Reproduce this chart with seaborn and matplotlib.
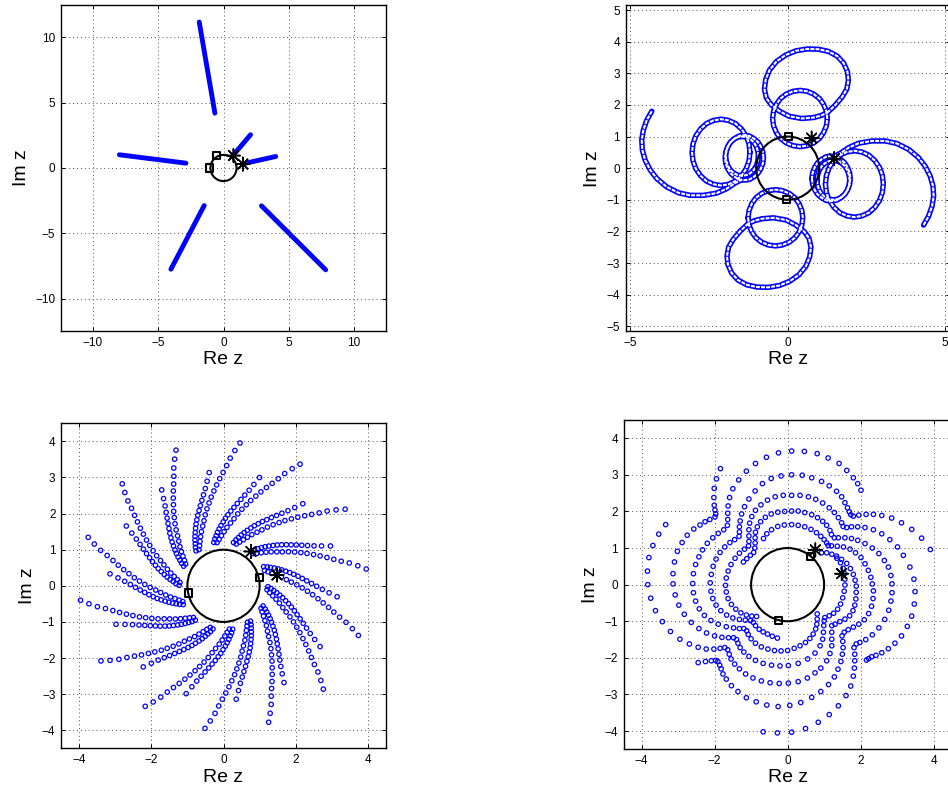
import numpy as np
import pandas as pd
import matplotlib
matplotlib.use("Agg")
import matplotlib.pyplot as plt
from matplotlib.patches import Circle
import seaborn as sns

sns.set_style("white", rc={"axes.edgecolor": "black", "text.color": "black",
                           "axes.labelcolor": "black", "xtick.color": "black",
                           "ytick.color": "black"})
plt.rcParams["font.family"] = ["Liberation Sans", "DejaVu Sans"]

BLUE = "#0000ff"

# ---------------- fixed reference points (same in every panel) ----------------
star_x = [0.76, 1.48]
star_y = [0.95, 0.30]

square_tl = ([-0.54, -1.05], [0.93, 0.00])
square_tr = ([0.02, -0.03], [1.01, -0.99])
square_bl = ([-0.97, 0.99], [-0.20, 0.23])
square_br = ([0.63, -0.26], [0.78, -0.98])

# ---------------- panel (a): straight streaks ----------------
streak_x0 = [-1.86, -7.98, -1.48, 2.91, 0.85, 1.71]
streak_y0 = [11.15, 1.01, -2.87, -2.89, 1.10, 0.37]
streak_x1 = [-0.66, -2.88, -4.03, 7.83, 2.07, 4.00]
streak_y1 = [4.19, 0.37, -7.73, -7.78, 2.54, 0.88]

# ---------------- panel (b): looping paths ----------------
top_small = [(1.26, 1.57), (1.23, 1.80), (1.14, 2.02), (1.01, 2.20), (0.83, 2.34), (0.62, 2.43),
             (0.39, 2.46), (0.17, 2.43), (-0.05, 2.34), (-0.23, 2.20), (-0.36, 2.02), (-0.45, 1.80),
             (-0.48, 1.57), (-0.45, 1.34), (-0.36, 1.12), (-0.23, 0.94), (-0.05, 0.80), (0.17, 0.71),
             (0.39, 0.68), (0.62, 0.71), (0.83, 0.80), (1.01, 0.94), (1.14, 1.12), (1.23, 1.34), (1.26, 1.57)]
top_big = [(1.25, 1.75), (1.50, 1.98), (1.73, 2.25), (1.88, 2.50), (1.93, 2.78), (1.90, 3.05),
           (1.78, 3.32), (1.58, 3.54), (1.30, 3.69), (0.98, 3.76), (0.62, 3.77), (0.26, 3.71),
           (-0.06, 3.58), (-0.36, 3.37), (-0.58, 3.10), (-0.70, 2.80), (-0.74, 2.50), (-0.68, 2.22),
           (-0.52, 2.00), (-0.26, 1.80), (0.05, 1.64), (0.45, 1.57), (0.82, 1.60), (1.05, 1.66), (1.25, 1.75)]
bottom_small = [(-1.26, -1.57), (-1.23, -1.80), (-1.14, -2.02), (-1.01, -2.20), (-0.83, -2.34), (-0.62, -2.43),
                (-0.39, -2.46), (-0.17, -2.43), (0.05, -2.34), (0.23, -2.20), (0.36, -2.02), (0.45, -1.80),
                (0.48, -1.57), (0.45, -1.34), (0.36, -1.12), (0.23, -0.94), (0.05, -0.80), (-0.17, -0.71),
                (-0.39, -0.68), (-0.62, -0.71), (-0.83, -0.80), (-1.01, -0.94), (-1.14, -1.12), (-1.23, -1.34),
                (-1.26, -1.57)]
bottom_big = [(-1.25, -1.75), (-1.50, -1.98), (-1.73, -2.25), (-1.88, -2.50), (-1.93, -2.78), (-1.90, -3.05),
              (-1.78, -3.32), (-1.58, -3.54), (-1.30, -3.69), (-0.98, -3.76), (-0.62, -3.77), (-0.26, -3.71),
              (0.06, -3.58), (0.36, -3.37), (0.58, -3.10), (0.70, -2.80), (0.74, -2.50), (0.68, -2.22),
              (0.52, -2.00), (0.26, -1.80), (-0.05, -1.64), (-0.45, -1.57), (-0.82, -1.60), (-1.05, -1.66),
              (-1.25, -1.75)]
left_tail = [(-4.32, 1.80), (-4.48, 1.52), (-4.59, 1.20), (-4.64, 0.89), (-4.62, 0.57), (-4.53, 0.25),
             (-4.37, -0.06), (-4.16, -0.33), (-3.85, -0.59), (-3.47, -0.78), (-3.10, -0.86), (-2.68, -0.86),
             (-2.26, -0.79), (-1.94, -0.65), (-1.67, -0.47), (-1.45, -0.36)]
left_big = [(-1.20, 0.50), (-1.23, 0.77), (-1.32, 1.02), (-1.47, 1.24), (-1.66, 1.41), (-1.88, 1.51),
            (-2.12, 1.55), (-2.36, 1.51), (-2.58, 1.41), (-2.77, 1.24), (-2.92, 1.02), (-3.01, 0.77),
            (-3.04, 0.50), (-3.01, 0.23), (-2.92, -0.02), (-2.77, -0.24), (-2.58, -0.41), (-2.36, -0.51),
            (-2.12, -0.55), (-1.88, -0.51), (-1.66, -0.41), (-1.47, -0.24), (-1.32, -0.02), (-1.23, 0.23),
            (-1.20, 0.50)]
left_small = [(-0.77, 0.33), (-0.79, 0.51), (-0.86, 0.69), (-0.95, 0.83), (-1.08, 0.94), (-1.22, 1.02),
              (-1.38, 1.04), (-1.54, 1.02), (-1.68, 0.94), (-1.81, 0.83), (-1.90, 0.69), (-1.97, 0.51),
              (-1.99, 0.33), (-1.97, 0.15), (-1.90, -0.03), (-1.81, -0.17), (-1.68, -0.28), (-1.54, -0.36),
              (-1.38, -0.38), (-1.22, -0.36), (-1.08, -0.28), (-0.95, -0.17), (-0.86, -0.03), (-0.79, 0.15),
              (-0.77, 0.33)]
left_small_inner = [(-0.93, 0.38), (-0.95, 0.54), (-1.00, 0.69), (-1.08, 0.82), (-1.19, 0.92), (-1.31, 0.98),
                    (-1.45, 1.00), (-1.59, 0.98), (-1.71, 0.92), (-1.82, 0.82), (-1.90, 0.69), (-1.95, 0.54),
                    (-1.97, 0.38), (-1.95, 0.22), (-1.90, 0.07), (-1.82, -0.06), (-1.71, -0.16), (-1.59, -0.22),
                    (-1.45, -0.24), (-1.31, -0.22), (-1.19, -0.16), (-1.08, -0.06), (-1.00, 0.07), (-0.95, 0.22),
                    (-0.93, 0.38)]
right_tail = [(4.32, -1.80), (4.48, -1.52), (4.59, -1.20), (4.64, -0.89), (4.62, -0.57), (4.53, -0.25),
              (4.37, 0.06), (4.16, 0.33), (3.85, 0.59), (3.47, 0.78), (3.10, 0.86), (2.68, 0.86),
              (2.26, 0.79), (1.94, 0.65), (1.67, 0.47), (1.45, 0.36)]
right_big = [(1.20, -0.50), (1.23, -0.77), (1.32, -1.02), (1.47, -1.24), (1.66, -1.41), (1.88, -1.51),
             (2.12, -1.55), (2.36, -1.51), (2.58, -1.41), (2.77, -1.24), (2.92, -1.02), (3.01, -0.77),
             (3.04, -0.50), (3.01, -0.23), (2.92, 0.02), (2.77, 0.24), (2.58, 0.41), (2.36, 0.51),
             (2.12, 0.55), (1.88, 0.51), (1.66, 0.41), (1.47, 0.24), (1.32, 0.02), (1.23, -0.23),
             (1.20, -0.50)]
right_small = [(0.77, -0.33), (0.79, -0.51), (0.86, -0.69), (0.95, -0.83), (1.08, -0.94), (1.22, -1.02),
               (1.38, -1.04), (1.54, -1.02), (1.68, -0.94), (1.81, -0.83), (1.90, -0.69), (1.97, -0.51),
               (1.99, -0.33), (1.97, -0.15), (1.90, 0.03), (1.81, 0.17), (1.68, 0.28), (1.54, 0.36),
               (1.38, 0.38), (1.22, 0.36), (1.08, 0.28), (0.95, 0.17), (0.86, 0.03), (0.79, -0.15),
               (0.77, -0.33)]
right_small_inner = [(0.93, -0.38), (0.95, -0.54), (1.00, -0.69), (1.08, -0.82), (1.19, -0.92), (1.31, -0.98),
                     (1.45, -1.00), (1.59, -0.98), (1.71, -0.92), (1.82, -0.82), (1.90, -0.69), (1.95, -0.54),
                     (1.97, -0.38), (1.95, -0.22), (1.90, -0.07), (1.82, 0.06), (1.71, 0.16), (1.59, 0.22),
                     (1.45, 0.24), (1.31, 0.22), (1.19, 0.16), (1.08, 0.06), (1.00, -0.07), (0.95, -0.22),
                     (0.93, -0.38)]

# ---------------- panel (c): 14 long and 14 short spiral arms (polar) ----------------
# radius of each point and how far (deg) it lags behind the arm tip
long_r = [1.21, 1.29, 1.39, 1.50, 1.62, 1.75, 1.88, 2.03, 2.18, 2.33, 2.48, 2.64, 2.80, 2.97,
          3.14, 3.33, 3.54, 3.76, 3.98]
long_turn_deg = [40.8, 37.6, 34.5, 31.6, 28.8, 25.8, 23.3, 21.0, 18.7, 16.5, 14.5, 12.4, 10.5, 8.6,
                 6.8, 5.1, 3.6, 1.8, 0.0]
long_tip_deg = [6.7, 32.2, 57.8, 83.4, 109.3, 134.8, 160.3, 185.8, 211.5, 237.0, 262.6, 288.3, 314.0, 339.8]
short_r = [1.23, 1.32, 1.40, 1.49, 1.58, 1.67, 1.77, 1.87, 1.97, 2.08, 2.19, 2.31, 2.44, 2.58, 2.74, 2.93, 3.16]
short_turn_deg = [31.0, 28.9, 26.8, 24.8, 22.8, 20.8, 18.7, 16.8, 14.8, 12.8, 10.8, 8.9, 7.0, 5.2, 3.4, 1.7, 0.0]
short_tip_deg = [20.4, 46.0, 71.6, 97.2, 122.8, 148.4, 174.0, 199.7, 225.3, 250.9, 276.4, 302.0, 327.8, 354.5]

# ---------------- panel (d): stepped spiral strands ----------------
strand_1 = [(-0.85, -0.87), (-0.98, -0.86), (-1.13, -0.83), (-1.28, -0.77), (-1.42, -0.67), (-1.54, -0.54),
            (-1.63, -0.38), (-1.68, -0.20), (-1.70, -0.02), (-1.68, 0.18), (-1.63, 0.37), (-1.55, 0.55),
            (-1.44, 0.72), (-1.32, 0.86), (-1.18, 0.97), (-1.07, 1.06), (-1.06, 1.18), (-1.06, 1.33),
            (-1.06, 1.50), (-1.04, 1.68), (-0.98, 1.86), (-0.88, 2.03), (-0.73, 2.18), (-0.55, 2.31),
            (-0.34, 2.40), (-0.12, 2.44), (0.11, 2.44), (0.34, 2.44), (0.57, 2.40), (0.77, 2.33),
            (0.96, 2.23), (1.14, 2.10), (1.28, 1.97), (1.39, 1.83), (1.48, 1.69), (1.52, 1.59),
            (1.62, 1.56), (1.75, 1.58), (1.92, 1.58), (2.12, 1.56), (2.35, 1.50), (2.58, 1.39),
            (2.80, 1.23), (3.01, 1.03), (3.17, 0.80), (3.35, 0.48), (3.46, 0.15), (3.49, -0.19),
            (3.47, -0.53), (3.40, -0.86), (3.28, -1.14), (3.12, -1.40), (2.94, -1.60), (2.76, -1.75),
            (2.58, -1.86), (2.42, -1.93), (2.30, -1.97), (2.22, -2.02), (2.16, -2.06)]
strand_2 = [(-0.28, -1.46), (-0.42, -1.41), (-0.55, -1.35), (-0.67, -1.29), (-0.78, -1.22), (-0.88, -1.12),
            (-0.94, -1.03), (-1.02, -0.98), (-1.16, -0.97), (-1.32, -0.95), (-1.50, -0.91), (-1.67, -0.83),
            (-1.83, -0.71), (-1.96, -0.56), (-2.05, -0.38), (-2.10, -0.18), (-2.12, 0.05), (-2.09, 0.28),
            (-2.04, 0.50), (-1.96, 0.70), (-1.85, 0.88), (-1.72, 1.03), (-1.58, 1.15), (-1.45, 1.23),
            (-1.33, 1.32), (-1.32, 1.44), (-1.32, 1.58), (-1.30, 1.74), (-1.26, 1.93), (-1.18, 2.13),
            (-1.06, 2.34), (-0.89, 2.56), (-0.69, 2.76), (-0.45, 2.90), (-0.18, 2.97), (0.11, 3.00),
            (0.40, 2.99), (0.66, 2.92), (0.93, 2.82), (1.14, 2.70), (1.34, 2.55), (1.48, 2.40),
            (1.57, 2.24), (1.64, 2.10), (1.69, 1.99), (1.73, 1.91), (1.80, 1.87), (1.95, 1.90),
            (2.15, 1.92), (2.35, 1.92), (2.58, 1.89), (2.85, 1.82), (3.12, 1.69), (3.40, 1.51),
            (3.67, 1.27), (3.91, 0.96)]
strand_3 = [(0.81, -0.80), (0.81, -0.94), (0.80, -1.08), (0.77, -1.21), (0.70, -1.35), (0.61, -1.47),
            (0.49, -1.58), (0.34, -1.67), (0.18, -1.74), (0.00, -1.80), (-0.18, -1.81), (-0.36, -1.80),
            (-0.54, -1.76), (-0.72, -1.70), (-0.88, -1.60), (-1.00, -1.48), (-1.08, -1.36), (-1.12, -1.26),
            (-1.20, -1.20), (-1.32, -1.20), (-1.48, -1.18), (-1.68, -1.15), (-1.90, -1.08), (-2.10, -0.98),
            (-2.28, -0.84), (-2.42, -0.66), (-2.52, -0.45), (-2.58, -0.22), (-2.60, 0.03), (-2.58, 0.30),
            (-2.52, 0.55), (-2.43, 0.76), (-2.33, 0.95), (-2.20, 1.13), (-2.05, 1.28), (-1.90, 1.40),
            (-1.75, 1.50), (-1.65, 1.62), (-1.64, 1.78), (-1.64, 1.95), (-1.63, 2.15), (-1.59, 2.38),
            (-1.50, 2.62), (-1.34, 2.86), (-1.13, 3.10), (-0.88, 3.31), (-0.58, 3.48), (-0.25, 3.60),
            (0.11, 3.65), (0.46, 3.64), (0.81, 3.58), (1.11, 3.46), (1.41, 3.31), (1.62, 3.12),
            (1.80, 2.92), (1.92, 2.76), (2.01, 2.58)]
strand_4 = [(1.35, 0.72), (1.45, 0.60), (1.52, 0.45), (1.56, 0.30), (1.57, 0.15), (1.57, -0.01),
            (1.55, -0.18), (1.51, -0.36), (1.45, -0.53), (1.37, -0.67), (1.26, -0.78), (1.14, -0.85),
            (1.02, -0.90), (1.00, -0.99), (0.99, -1.12), (0.98, -1.30), (0.96, -1.49), (0.89, -1.67),
            (0.75, -1.87), (0.55, -2.03), (0.29, -2.15), (0.02, -2.21), (-0.21, -2.22), (-0.44, -2.20),
            (-0.67, -2.15), (-0.88, -2.07), (-1.06, -1.96), (-1.20, -1.84), (-1.30, -1.72), (-1.36, -1.60),
            (-1.40, -1.50), (-1.48, -1.45), (-1.62, -1.45), (-1.80, -1.44), (-2.00, -1.40), (-2.22, -1.32),
            (-2.43, -1.20), (-2.64, -1.03), (-2.83, -0.81), (-2.98, -0.56), (-3.08, -0.28), (-3.14, 0.02),
            (-3.14, 0.30), (-3.10, 0.62), (-3.02, 0.91), (-2.89, 1.15), (-2.75, 1.35), (-2.57, 1.52),
            (-2.40, 1.63), (-2.26, 1.72), (-2.13, 1.78), (-1.99, 1.85), (-1.97, 1.93), (-1.99, 2.04),
            (-2.01, 2.17), (-2.02, 2.38), (-2.01, 2.63), (-1.95, 2.89), (-1.84, 3.17)]
strand_5 = [(0.93, 0.87), (1.07, 0.87), (1.21, 0.83), (1.34, 0.78), (1.48, 0.69), (1.62, 0.58),
            (1.72, 0.44), (1.80, 0.28), (1.85, 0.12), (1.88, -0.04), (1.88, -0.21), (1.87, -0.39),
            (1.84, -0.56), (1.79, -0.71), (1.70, -0.85), (1.57, -0.94), (1.43, -1.01), (1.30, -1.08),
            (1.21, -1.12), (1.21, -1.30), (1.21, -1.49), (1.21, -1.67), (1.16, -1.88), (1.07, -2.08),
            (0.91, -2.28), (0.75, -2.41), (0.54, -2.55), (0.29, -2.65), (0.02, -2.69), (-0.23, -2.70),
            (-0.48, -2.68), (-0.72, -2.63), (-0.95, -2.55), (-1.15, -2.44), (-1.32, -2.30), (-1.45, -2.17),
            (-1.55, -2.03), (-1.60, -1.90), (-1.64, -1.78), (-1.72, -1.72), (-1.85, -1.74), (-2.02, -1.76),
            (-2.23, -1.76), (-2.45, -1.71), (-2.69, -1.62), (-2.95, -1.49), (-3.21, -1.28), (-3.43, -1.01),
            (-3.62, -0.71), (-3.75, -0.37), (-3.83, 0.00), (-3.84, 0.37), (-3.80, 0.74), (-3.69, 1.07),
            (-3.53, 1.38), (-3.34, 1.64)]
strand_6 = [(-0.66, 1.26), (-0.57, 1.39), (-0.44, 1.50), (-0.27, 1.59), (-0.09, 1.63), (0.11, 1.64),
            (0.29, 1.62), (0.47, 1.58), (0.64, 1.51), (0.79, 1.42), (0.91, 1.32), (1.00, 1.23),
            (1.07, 1.14), (1.11, 1.07), (1.20, 1.06), (1.36, 1.05), (1.53, 1.03), (1.71, 0.97),
            (1.86, 0.87), (2.01, 0.74), (2.12, 0.57), (2.21, 0.39), (2.28, 0.20), (2.32, 0.02),
            (2.35, -0.17), (2.34, -0.38), (2.30, -0.59), (2.22, -0.79), (2.10, -0.96), (1.95, -1.08),
            (1.80, -1.16), (1.66, -1.23), (1.55, -1.30), (1.49, -1.40), (1.51, -1.55), (1.52, -1.72),
            (1.50, -1.90), (1.46, -2.10), (1.38, -2.31), (1.28, -2.52), (1.12, -2.73), (0.91, -2.92),
            (0.66, -3.08), (0.36, -3.22), (0.06, -3.30), (-0.26, -3.33), (-0.57, -3.29), (-0.86, -3.20),
            (-1.13, -3.09), (-1.36, -2.92), (-1.54, -2.76), (-1.68, -2.58), (-1.77, -2.44), (-1.82, -2.30),
            (-1.86, -2.20), (-1.91, -2.10), (-1.97, -2.07), (-2.09, -2.08), (-2.25, -2.10), (-2.45, -2.13)]
strand_7 = [(-1.21, 0.62), (-1.12, 0.71), (-1.02, 0.80), (-0.93, 0.88), (-0.90, 1.00), (-0.89, 1.14),
            (-0.89, 1.28), (-0.88, 1.43), (-0.83, 1.58), (-0.74, 1.72), (-0.61, 1.84), (-0.45, 1.93),
            (-0.27, 1.98), (-0.08, 2.00), (0.11, 2.01), (0.29, 2.01), (0.47, 1.97), (0.66, 1.91),
            (0.82, 1.83), (0.96, 1.73), (1.07, 1.62), (1.16, 1.48), (1.20, 1.37), (1.28, 1.28),
            (1.39, 1.28), (1.57, 1.28), (1.75, 1.26), (1.92, 1.21), (2.12, 1.12), (2.32, 1.00),
            (2.50, 0.85), (2.65, 0.66), (2.76, 0.48), (2.83, 0.25), (2.86, 0.02), (2.86, -0.22),
            (2.83, -0.45), (2.77, -0.70), (2.66, -0.95), (2.50, -1.18), (2.32, -1.37), (2.14, -1.50),
            (1.98, -1.58), (1.88, -1.62), (1.82, -1.72), (1.84, -1.90), (1.84, -2.08), (1.83, -2.28),
            (1.80, -2.50), (1.73, -2.77), (1.60, -3.03), (1.39, -3.31), (1.14, -3.55), (0.84, -3.76),
            (0.49, -3.93), (0.11, -4.03), (-0.28, -4.05), (-0.67, -4.02)]


# ---------------- helpers ----------------
def frame(ax, lim, xticks, yticks):
    ax.set_xlim(-lim, lim)
    ax.set_ylim(-lim, lim)
    ax.set_xticks(xticks)
    ax.set_yticks(yticks)
    ax.grid(True, linestyle=(0, (1, 3)), color="#555555", linewidth=0.7)
    ax.set_axisbelow(True)
    ax.tick_params(direction="in", bottom=True, left=True, top=True, right=True,
                   length=3, width=0.7, labelsize=8.5, pad=4)
    for s in ax.spines.values():
        s.set_linewidth(1.0)
        s.set_color("black")
    ax.set_xlabel("Re z", fontsize=14, labelpad=2)
    ax.set_ylabel("Im z", fontsize=14, labelpad=4)


def hollow(ax, xs, ys, marker, size, color, lw, z):
    sns.scatterplot(x=np.asarray(xs, float), y=np.asarray(ys, float), ax=ax,
                    marker=marker, s=size, legend=False, zorder=z)
    coll = ax.collections[-1]
    coll.set_facecolor("none")
    coll.set_edgecolor(color)
    coll.set_linewidth(lw)


def landmarks(ax, squares):
    ax.add_patch(Circle((0, 0), 1.0, fill=False, ec="black", lw=1.5, zorder=4))
    hollow(ax, squares[0], squares[1], "s", 26, "black", 1.5, 5)
    hollow(ax, star_x, star_y, (8, 2, 0), 95, "black", 1.1, 6)


def tube(ax, pts):
    # blue band of the bead chain
    xy = np.asarray(pts, float)
    sns.lineplot(x=xy[:, 0], y=xy[:, 1], sort=False, estimator=None, ax=ax, color=BLUE,
                 lw=3.9, solid_capstyle="round", solid_joinstyle="round", zorder=2)


def tube_core(ax, pts):
    # hollow centres of the beads, interrupted like ring outlines
    xy = np.asarray(pts, float)
    sns.lineplot(x=xy[:, 0], y=xy[:, 1], sort=False, estimator=None, ax=ax, color="white",
                 lw=1.5, linestyle=(0, (1.9, 0.55)), dash_capstyle="butt", zorder=2.5)


fig = plt.figure(figsize=(9.48, 7.92), dpi=100)
ax_a = fig.add_axes([0.06435, 0.58207, 0.34283, 0.41162])
ax_b = fig.add_axes([0.66002, 0.58207, 0.34177, 0.41124])
ax_c = fig.add_axes([0.06435, 0.05518, 0.34283, 0.41035])
ax_d = fig.add_axes([0.65791, 0.05429, 0.34580, 0.41503])

# (a) streaks
for x0, y0, x1, y1 in zip(streak_x0, streak_y0, streak_x1, streak_y1):
    sns.lineplot(x=[x0, x1], y=[y0, y1], sort=False, estimator=None, ax=ax_a, color=BLUE,
                 lw=3.5, solid_capstyle="round", zorder=2)
frame(ax_a, 12.45, [-10, -5, 0, 5, 10], [-10, -5, 0, 5, 10])
landmarks(ax_a, square_tl)

# (b) loops
paths_b = [top_small, top_big, bottom_small, bottom_big, left_tail, left_big, left_small,
           left_small_inner, right_tail, right_big, right_small, right_small_inner]
for p in paths_b:
    tube(ax_b, p)
for p in paths_b:
    tube_core(ax_b, p)
frame(ax_b, 5.15, [-5, 0, 5], list(range(-5, 6)))
landmarks(ax_b, square_tr)

# (c) spiral arms
arm_rows = []
for tip in long_tip_deg:
    th = np.deg2rad(tip + np.asarray(long_turn_deg))
    for r, t in zip(long_r, th):
        arm_rows.append((r * np.cos(t), r * np.sin(t)))
for tip in short_tip_deg:
    th = np.deg2rad(tip + np.asarray(short_turn_deg))
    for r, t in zip(short_r, th):
        arm_rows.append((r * np.cos(t), r * np.sin(t)))
arms = pd.DataFrame(arm_rows, columns=["re", "im"])
hollow(ax_c, arms["re"], arms["im"], "o", 10, BLUE, 0.9, 2)
frame(ax_c, 4.5, [-4, -2, 0, 2, 4], list(range(-4, 5)))
landmarks(ax_c, square_bl)

# (d) stepped strands
strands = pd.DataFrame(np.vstack([strand_1, strand_2, strand_3, strand_4,
                                  strand_5, strand_6, strand_7]), columns=["re", "im"])
hollow(ax_d, strands["re"], strands["im"], "o", 10, BLUE, 0.9, 2)
frame(ax_d, 4.49, [-4, -2, 0, 2, 4], list(range(-4, 5)))
landmarks(ax_d, square_br)

fig.savefig("out.png", dpi=100)
